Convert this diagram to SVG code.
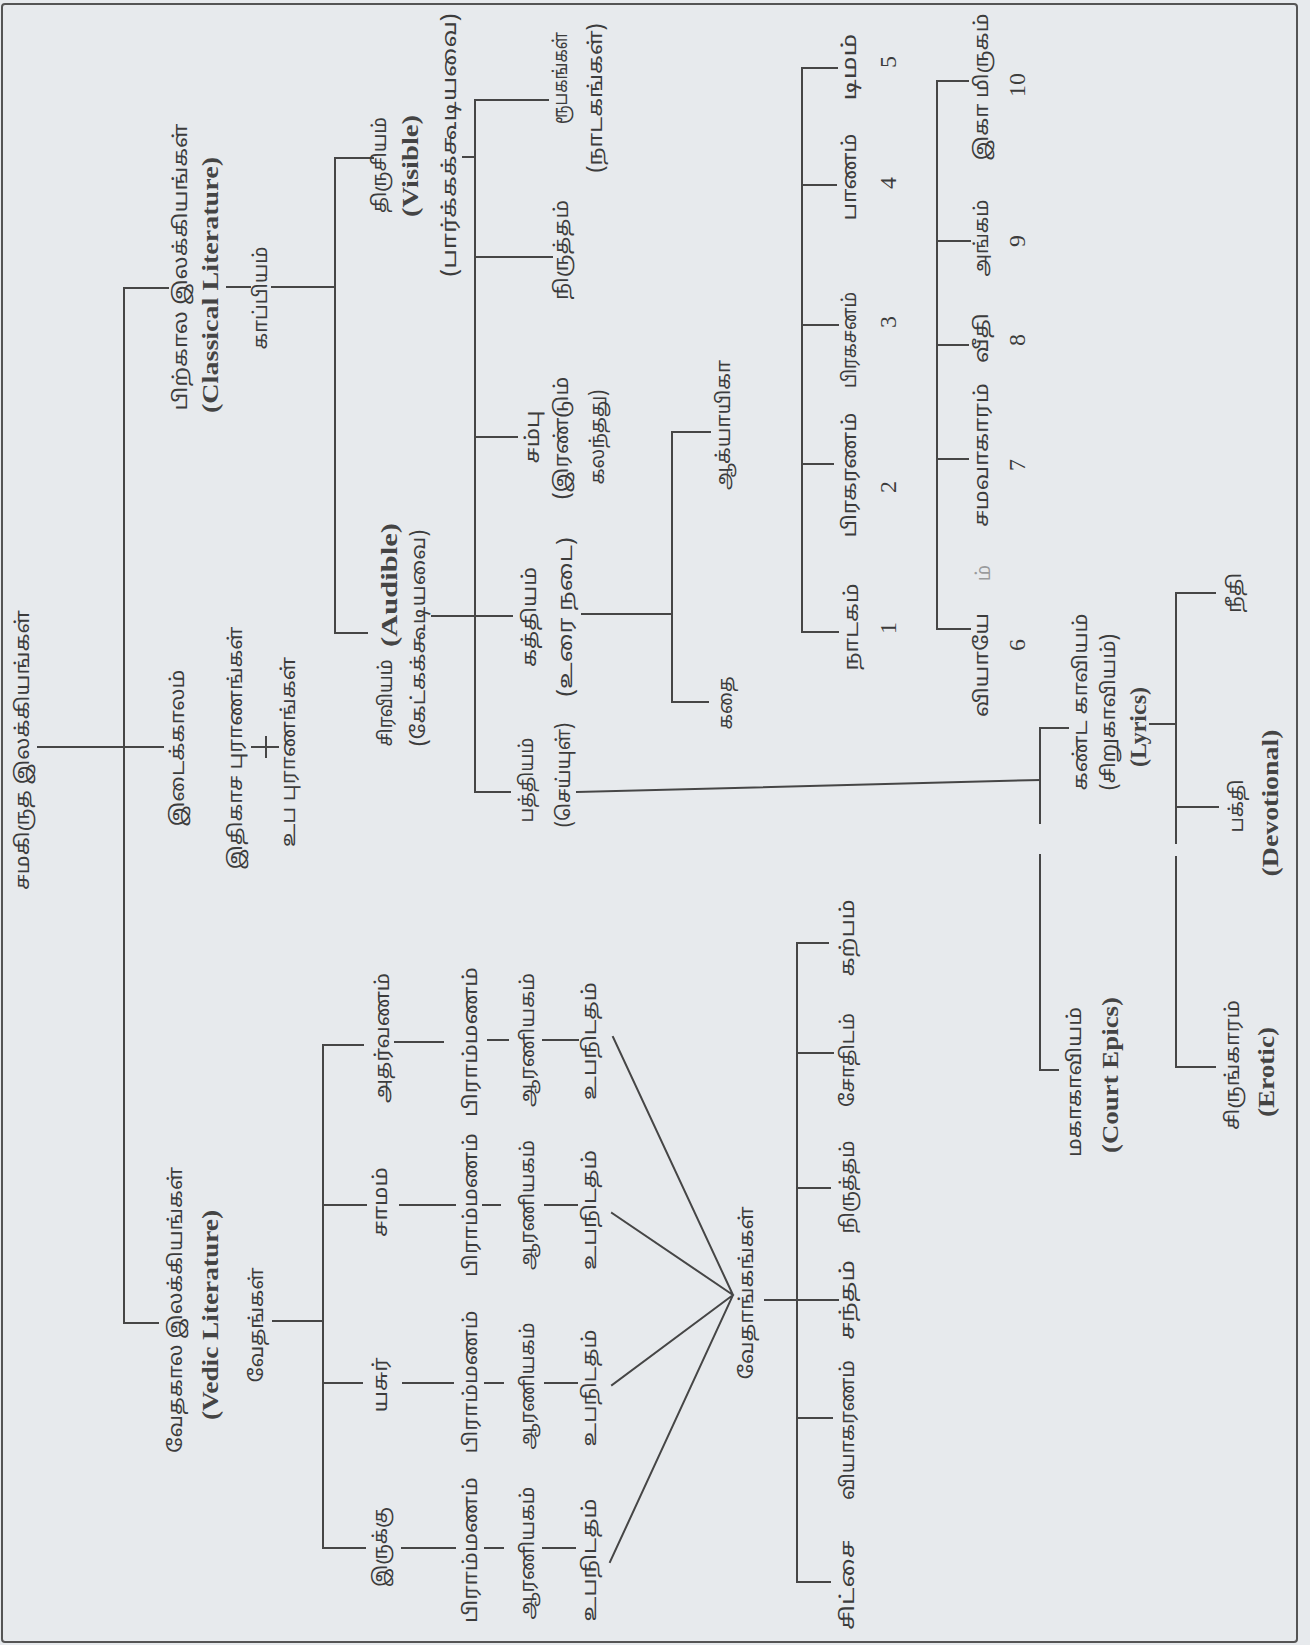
<svg xmlns="http://www.w3.org/2000/svg" width="1310" height="1645" viewBox="0 0 1310 1645">
<style>
.bg{fill:#e7eaed}
.frame{fill:none;stroke:#555;stroke-width:2}
.ln{fill:none;stroke:#464646;stroke-width:2;stroke-linecap:square}
.ta{font-family:"Noto Sans Tamil","Lohit Tamil","Noto Sans",sans-serif;font-size:19px;fill:#3c3c3c;text-anchor:middle;dominant-baseline:central}
.en{font-family:"Liberation Serif","Times New Roman",serif;font-size:24px;font-weight:bold;fill:#444;text-anchor:middle;dominant-baseline:central}
.nu{font-family:"Liberation Serif","Times New Roman",serif;font-size:24px;fill:#3c3c3c;text-anchor:middle;dominant-baseline:central}
.faint{opacity:0.45}
</style>
<rect class="bg" x="0" y="0" width="1310" height="1645"/>
<rect class="frame" x="2" y="4" width="1295" height="1638" rx="3"/>

<g id="connectors">
<path class="ln" d="M38 747 H163"/>
<path class="ln" d="M168 288 H124 V1323 H158"/>
<path class="ln" d="M252 747 H278 M266 737 V757"/>
<path class="ln" d="M227 287 H250"/>
<path class="ln" d="M272 287 H335"/>
<path class="ln" d="M373 158 H335 V633 H367"/>
<path class="ln" d="M463 157 H475"/>
<path class="ln" d="M548 100 H475 V792 H510"/>
<path class="ln" d="M475 257 H552"/>
<path class="ln" d="M475 437 H517"/>
<path class="ln" d="M432 616 H512"/>
<path class="ln" d="M582 614 H672"/>
<path class="ln" d="M710 432 H672 V702 H708"/>
<path class="ln" d="M577 792 L1040 780"/>
<path class="ln" d="M837 68 H802 V632 H838"/>
<path class="ln" d="M802 185 H836"/>
<path class="ln" d="M802 325 H838"/>
<path class="ln" d="M802 464 H833"/>
<path class="ln" d="M968 81 H937 V629 H970"/>
<path class="ln" d="M937 241 H970"/>
<path class="ln" d="M937 345 H968"/>
<path class="ln" d="M937 459 H968"/>
<path class="ln" d="M1068 728 H1040 V823"/>
<path class="ln" d="M1040 855 V1070 H1058"/>
<path class="ln" d="M1150 724 H1176"/>
<path class="ln" d="M1215 593 H1176 V843"/>
<path class="ln" d="M1176 857 V1067 H1215"/>
<path class="ln" d="M1176 807 H1218"/>
<path class="ln" d="M273 1321 H323"/>
<path class="ln" d="M363 1045 H323 V1548 H365"/>
<path class="ln" d="M323 1205 H366"/>
<path class="ln" d="M323 1383 H362"/>
<path class="ln" d="M402 1548 H455 M485 1548 H503 M543 1548 H575"/>
<path class="ln" d="M403 1383 H453 M485 1383 H503 M545 1383 H577"/>
<path class="ln" d="M400 1205 H455 M483 1205 H500 M545 1205 H577"/>
<path class="ln" d="M395 1042 H443 M488 1040 H508 M543 1040 H578"/>
<path class="ln" d="M613 1037 L733 1295 M612 1213 L733 1295 M612 1385 L733 1295 M610 1562 L733 1295"/>
<path class="ln" d="M765 1300 H838"/>
<path class="ln" d="M828 943 H797 V1582 H830"/>
<path class="ln" d="M797 1053 H833"/>
<path class="ln" d="M797 1188 H830"/>
<path class="ln" d="M797 1418 H832"/>
</g>

<g id="root"><text class="ta" transform="translate(24 750) rotate(-90)" textLength="280" lengthAdjust="spacingAndGlyphs">சமகிருத இலக்கியங்கள்</text></g>

<g id="classical">
<text class="ta" transform="translate(182 267) rotate(-90)" textLength="287" lengthAdjust="spacingAndGlyphs">பிற்கால இலக்கியங்கள்</text>
<text class="en" transform="translate(210 285) rotate(-90)" textLength="256" lengthAdjust="spacingAndGlyphs">(Classical Literature)</text>
</g>
<g id="middle">
<text class="ta" transform="translate(179 748) rotate(-90)" textLength="157" lengthAdjust="spacingAndGlyphs">இடைக்காலம்</text>
</g>
<g id="itihasa"><text class="ta" transform="translate(237 748) rotate(-90)" textLength="243" lengthAdjust="spacingAndGlyphs">இதிகாச புராணங்கள்</text></g>
<g id="upapurana"><text class="ta" transform="translate(290 752) rotate(-90)" textLength="190" lengthAdjust="spacingAndGlyphs">உப புராணங்கள்</text></g>
<g id="vedic">
<text class="ta" transform="translate(177 1310) rotate(-90)" textLength="286" lengthAdjust="spacingAndGlyphs">வேதகால இலக்கியங்கள்</text>
<text class="en" transform="translate(210 1315) rotate(-90)" textLength="210" lengthAdjust="spacingAndGlyphs">(Vedic Literature)</text>
</g>

<g id="kavya"><text class="ta" transform="translate(262 298) rotate(-90)" textLength="103" lengthAdjust="spacingAndGlyphs">காப்பியம்</text></g>
<g id="visible">
<text class="ta" transform="translate(381 165) rotate(-90)" textLength="96" lengthAdjust="spacingAndGlyphs">திருசியம்</text>
<text class="en" transform="translate(410 166) rotate(-90)" textLength="102" lengthAdjust="spacingAndGlyphs">(Visible)</text>
<text class="ta" transform="translate(451 145) rotate(-90)" textLength="264" lengthAdjust="spacingAndGlyphs">(பார்க்கக்கூடியவை)</text>
</g>
<g id="audible">
<text class="ta" transform="translate(387 703) rotate(-90)" textLength="87" lengthAdjust="spacingAndGlyphs">சிரவியம்</text>
<text class="en" transform="translate(389 585) rotate(-90)" textLength="124" lengthAdjust="spacingAndGlyphs">(Audible)</text>
<text class="ta" transform="translate(420 638) rotate(-90)" textLength="217" lengthAdjust="spacingAndGlyphs">(கேட்கக்கூடியவை)</text>
</g>
<g id="rupaka">
<text class="ta" transform="translate(562 78) rotate(-90)" textLength="92" lengthAdjust="spacingAndGlyphs">ரூபகங்கள்</text>
<text class="ta" transform="translate(597 98) rotate(-90)" textLength="150" lengthAdjust="spacingAndGlyphs">(நாடகங்கள்)</text>
</g>
<g id="nritta"><text class="ta" transform="translate(563 250) rotate(-90)" textLength="100" lengthAdjust="spacingAndGlyphs">நிருத்தம்</text></g>
<g id="champu">
<text class="ta" transform="translate(534 437) rotate(-90)" textLength="53" lengthAdjust="spacingAndGlyphs">சம்பு</text>
<text class="ta" transform="translate(563 438) rotate(-90)" textLength="123" lengthAdjust="spacingAndGlyphs">(இரண்டும்</text>
<text class="ta" transform="translate(599 437) rotate(-90)" textLength="95" lengthAdjust="spacingAndGlyphs">கலந்தது)</text>
</g>
<g id="gadya">
<text class="ta" transform="translate(531 617) rotate(-90)" textLength="100" lengthAdjust="spacingAndGlyphs">கத்தியம்</text>
<text class="ta" transform="translate(567 617) rotate(-90)" textLength="160" lengthAdjust="spacingAndGlyphs">(உரை நடை)</text>
</g>
<g id="padya">
<text class="ta" transform="translate(528 780) rotate(-90)" textLength="85" lengthAdjust="spacingAndGlyphs">பத்தியம்</text>
<text class="ta" transform="translate(565 775) rotate(-90)" textLength="105" lengthAdjust="spacingAndGlyphs">(செய்யுள்)</text>
</g>
<g id="akhyayika"><text class="ta" transform="translate(725 425) rotate(-90)" textLength="130" lengthAdjust="spacingAndGlyphs">ஆக்யாயிகா</text></g>
<g id="katha"><text class="ta" transform="translate(727 703) rotate(-90)" textLength="53" lengthAdjust="spacingAndGlyphs">கதை</text></g>

<g id="rupaka-list">
<text class="ta" transform="translate(851 67) rotate(-90)" textLength="67" lengthAdjust="spacingAndGlyphs">டிமம்</text>
<text class="nu" transform="translate(888 62) rotate(-90)">5</text>
<text class="ta" transform="translate(851 177) rotate(-90)" textLength="87" lengthAdjust="spacingAndGlyphs">பாணம்</text>
<text class="nu" transform="translate(888 183) rotate(-90)">4</text>
<text class="ta" transform="translate(851 340) rotate(-90)" textLength="96" lengthAdjust="spacingAndGlyphs">பிரகசனம்</text>
<text class="nu" transform="translate(888 322) rotate(-90)">3</text>
<text class="ta" transform="translate(851 475) rotate(-90)" textLength="125" lengthAdjust="spacingAndGlyphs">பிரகரணம்</text>
<text class="nu" transform="translate(888 487) rotate(-90)">2</text>
<text class="ta" transform="translate(853 627) rotate(-90)" textLength="87" lengthAdjust="spacingAndGlyphs">நாடகம்</text>
<text class="nu" transform="translate(888 628) rotate(-90)">1</text>
</g>
<g id="uparupaka-list">
<text class="ta" transform="translate(983 87) rotate(-90)" textLength="147" lengthAdjust="spacingAndGlyphs">இகா மிருகம்</text>
<text class="nu" transform="translate(1017 85) rotate(-90)">10</text>
<text class="ta" transform="translate(983 238) rotate(-90)" textLength="77" lengthAdjust="spacingAndGlyphs">அங்கம்</text>
<text class="nu" transform="translate(1017 241) rotate(-90)">9</text>
<text class="ta" transform="translate(983 338) rotate(-90)" textLength="50" lengthAdjust="spacingAndGlyphs">வீதி</text>
<text class="nu" transform="translate(1017 340) rotate(-90)">8</text>
<text class="ta" transform="translate(983 455) rotate(-90)" textLength="144" lengthAdjust="spacingAndGlyphs">சமவாகாரம்</text>
<text class="nu" transform="translate(1017 465) rotate(-90)">7</text>
<text class="ta" transform="translate(983 665) rotate(-90)" textLength="104" lengthAdjust="spacingAndGlyphs">வியாயே</text>
<text class="ta faint" transform="translate(985 573) rotate(-90)">ம்</text>
<text class="nu" transform="translate(1017 645) rotate(-90)">6</text>
</g>

<g id="lyrics">
<text class="ta" transform="translate(1082 702) rotate(-90)" textLength="177" lengthAdjust="spacingAndGlyphs">கண்ட  காவியம்</text>
<text class="ta" transform="translate(1110 712) rotate(-90)" textLength="157" lengthAdjust="spacingAndGlyphs">(சிறுகாவியம்)</text>
<text class="en" transform="translate(1138 727) rotate(-90)" textLength="80" lengthAdjust="spacingAndGlyphs">(Lyrics)</text>
</g>
<g id="mahakavya">
<text class="ta" transform="translate(1076 1082) rotate(-90)" textLength="150" lengthAdjust="spacingAndGlyphs">மகாகாவியம்</text>
<text class="en" transform="translate(1110 1075) rotate(-90)" textLength="156" lengthAdjust="spacingAndGlyphs">(Court Epics)</text>
</g>
<g id="niti"><text class="ta" transform="translate(1236 593) rotate(-90)" textLength="40" lengthAdjust="spacingAndGlyphs">நீதி</text></g>
<g id="bhakti">
<text class="ta" transform="translate(1238 806) rotate(-90)" textLength="53" lengthAdjust="spacingAndGlyphs">பக்தி</text>
<text class="en" transform="translate(1270 803) rotate(-90)" textLength="147" lengthAdjust="spacingAndGlyphs">(Devotional)</text>
</g>
<g id="sringara">
<text class="ta" transform="translate(1234 1065) rotate(-90)" textLength="130" lengthAdjust="spacingAndGlyphs">சிருங்காரம்</text>
<text class="en" transform="translate(1266 1072) rotate(-90)" textLength="90" lengthAdjust="spacingAndGlyphs">(Erotic)</text>
</g>

<g id="vedas"><text class="ta" transform="translate(258 1325) rotate(-90)" textLength="115" lengthAdjust="spacingAndGlyphs">வேதங்கள்</text></g>
<g id="rig">
<text class="ta" transform="translate(382 1547) rotate(-90)" textLength="80" lengthAdjust="spacingAndGlyphs">இருக்கு</text>
<text class="ta" transform="translate(472 1550) rotate(-90)" textLength="146" lengthAdjust="spacingAndGlyphs">பிராம்மணம்</text>
<text class="ta" transform="translate(529 1553) rotate(-90)" textLength="133" lengthAdjust="spacingAndGlyphs">ஆரணியகம்</text>
<text class="ta" transform="translate(591 1560) rotate(-90)" textLength="123" lengthAdjust="spacingAndGlyphs">உபநிடதம்</text>
</g>
<g id="yajur">
<text class="ta" transform="translate(382 1385) rotate(-90)" textLength="55" lengthAdjust="spacingAndGlyphs">யசுர்</text>
<text class="ta" transform="translate(472 1382) rotate(-90)" textLength="143" lengthAdjust="spacingAndGlyphs">பிராம்மணம்</text>
<text class="ta" transform="translate(529 1386) rotate(-90)" textLength="127" lengthAdjust="spacingAndGlyphs">ஆரணியகம்</text>
<text class="ta" transform="translate(591 1388) rotate(-90)" textLength="117" lengthAdjust="spacingAndGlyphs">உபநிடதம்</text>
</g>
<g id="sama">
<text class="ta" transform="translate(382 1202) rotate(-90)" textLength="70" lengthAdjust="spacingAndGlyphs">சாமம்</text>
<text class="ta" transform="translate(472 1205) rotate(-90)" textLength="144" lengthAdjust="spacingAndGlyphs">பிராம்மணம்</text>
<text class="ta" transform="translate(529 1205) rotate(-90)" textLength="130" lengthAdjust="spacingAndGlyphs">ஆரணியகம்</text>
<text class="ta" transform="translate(591 1210) rotate(-90)" textLength="120" lengthAdjust="spacingAndGlyphs">உபநிடதம்</text>
</g>
<g id="atharva">
<text class="ta" transform="translate(384 1038) rotate(-90)" textLength="130" lengthAdjust="spacingAndGlyphs">அதர்வணம்</text>
<text class="ta" transform="translate(472 1042) rotate(-90)" textLength="150" lengthAdjust="spacingAndGlyphs">பிராம்மணம்</text>
<text class="ta" transform="translate(529 1040) rotate(-90)" textLength="134" lengthAdjust="spacingAndGlyphs">ஆரணியகம்</text>
<text class="ta" transform="translate(591 1041) rotate(-90)" textLength="118" lengthAdjust="spacingAndGlyphs">உபநிடதம்</text>
</g>
<g id="vedanga"><text class="ta" transform="translate(748 1293) rotate(-90)" textLength="173" lengthAdjust="spacingAndGlyphs">வேதாங்கங்கள்</text></g>
<g id="vedanga-list">
<text class="ta" transform="translate(849 1585) rotate(-90)" textLength="90" lengthAdjust="spacingAndGlyphs">சிட்சை</text>
<text class="ta" transform="translate(849 1430) rotate(-90)" textLength="140" lengthAdjust="spacingAndGlyphs">வியாகரணம்</text>
<text class="ta" transform="translate(849 1300) rotate(-90)" textLength="80" lengthAdjust="spacingAndGlyphs">சந்தம்</text>
<text class="ta" transform="translate(849 1187) rotate(-90)" textLength="93" lengthAdjust="spacingAndGlyphs">நிருத்தம்</text>
<text class="ta" transform="translate(849 1060) rotate(-90)" textLength="94" lengthAdjust="spacingAndGlyphs">சோதிடம்</text>
<text class="ta" transform="translate(849 938) rotate(-90)" textLength="77" lengthAdjust="spacingAndGlyphs">கற்பம்</text>
</g>
</svg>
